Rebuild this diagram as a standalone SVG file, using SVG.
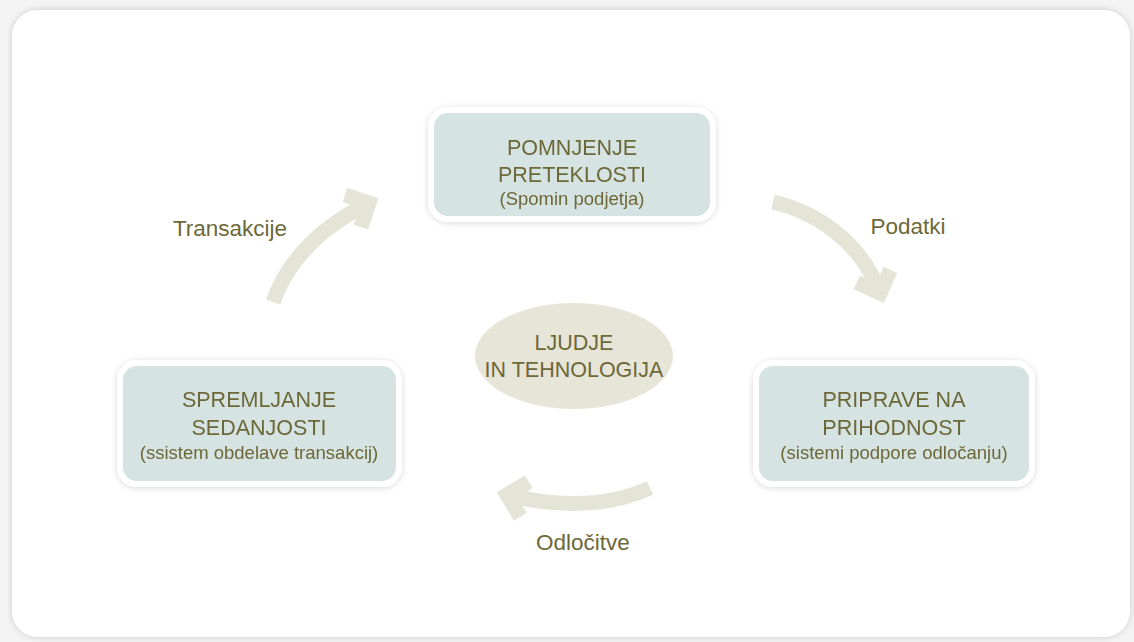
<svg xmlns="http://www.w3.org/2000/svg" width="1134" height="642" viewBox="0 0 1134 642">
  <defs>
    <filter id="panelShadow" x="-5%" y="-5%" width="110%" height="110%">
      <feGaussianBlur in="SourceAlpha" stdDeviation="3"/>
      <feComponentTransfer><feFuncA type="linear" slope="0.18"/></feComponentTransfer>
      <feMerge><feMergeNode/><feMergeNode in="SourceGraphic"/></feMerge>
    </filter>
    <filter id="boxShadow" x="-10%" y="-15%" width="120%" height="130%">
      <feGaussianBlur in="SourceAlpha" stdDeviation="3"/>
      <feOffset dx="0" dy="1"/>
      <feComponentTransfer><feFuncA type="linear" slope="0.16"/></feComponentTransfer>
      <feMerge><feMergeNode/><feMergeNode in="SourceGraphic"/></feMerge>
    </filter>
    <marker id="chevron" markerUnits="userSpaceOnUse" orient="auto" refX="0" refY="0"
            markerWidth="60" markerHeight="60" viewBox="-30 -30 60 60" overflow="visible">
      <path d="M -18 -18 L 0 0 L -18 18" fill="none" stroke="#e4e4d7" stroke-width="15"
            stroke-linejoin="miter" stroke-linecap="butt"/>
    </marker>
    <style>
      .box { fill: #d6e3e3; stroke: #ffffff; stroke-width: 6; }
      .big { font-family: "Liberation Sans", Arial, sans-serif; font-size: 21.5px; fill: #6d6838; text-anchor: middle; }
      .small { font-family: "Liberation Sans", Arial, sans-serif; font-size: 18.5px; fill: #6d6838; text-anchor: middle; }
      .label { font-family: "Liberation Sans", Arial, sans-serif; font-size: 22.5px; fill: #6d6838; text-anchor: middle; }
      .flow { fill: none; stroke: #e4e4d7; stroke-width: 15; stroke-linecap: butt; marker-end: url(#chevron); }
    </style>
  </defs>

  <!-- page and panel -->
  <rect x="0" y="0" width="1134" height="642" fill="#f3f3f3"/>
  <rect x="12" y="10" width="1118" height="627" rx="26" fill="#ffffff" filter="url(#panelShadow)"/>

  <!-- connectors -->
  <g id="connectors">
    <path class="flow" d="M 273 302 Q 295 240 369 203"/>
    <path class="flow" d="M 773 202 C 815 212, 860 240, 880 293"/>
    <path class="flow" d="M 650 488 Q 590 515 507 495"/>
    <text class="label" x="230" y="236">Transakcije</text>
    <text class="label" x="908" y="234">Podatki</text>
    <text class="label" x="583" y="550">Odločitve</text>
  </g>

  <!-- top node -->
  <g id="node-past" filter="url(#boxShadow)">
    <rect class="box" x="431" y="110" width="282" height="109" rx="17"/>
    <text class="big" x="572" y="155">POMNJENJE</text>
    <text class="big" x="572" y="182">PRETEKLOSTI</text>
    <text class="small" x="572" y="205">(Spomin podjetja)</text>
  </g>

  <!-- left node -->
  <g id="node-present" filter="url(#boxShadow)">
    <rect class="box" x="120" y="363" width="279" height="121" rx="17"/>
    <text class="big" x="259" y="407">SPREMLJANJE</text>
    <text class="big" x="259" y="435">SEDANJOSTI</text>
    <text class="small" x="259" y="459">(ssistem obdelave transakcij)</text>
  </g>

  <!-- right node -->
  <g id="node-future" filter="url(#boxShadow)">
    <rect class="box" x="756" y="363" width="276" height="121" rx="17"/>
    <text class="big" x="894" y="407">PRIPRAVE NA</text>
    <text class="big" x="894" y="435">PRIHODNOST</text>
    <text class="small" x="894" y="459">(sistemi podpore odločanju)</text>
  </g>

  <!-- centre node -->
  <g id="node-core">
    <ellipse cx="574" cy="356" rx="99" ry="53" fill="#e6e5d8"/>
    <text class="big" x="574" y="350">LJUDJE</text>
    <text class="big" x="574" y="377">IN TEHNOLOGIJA</text>
  </g>
</svg>
